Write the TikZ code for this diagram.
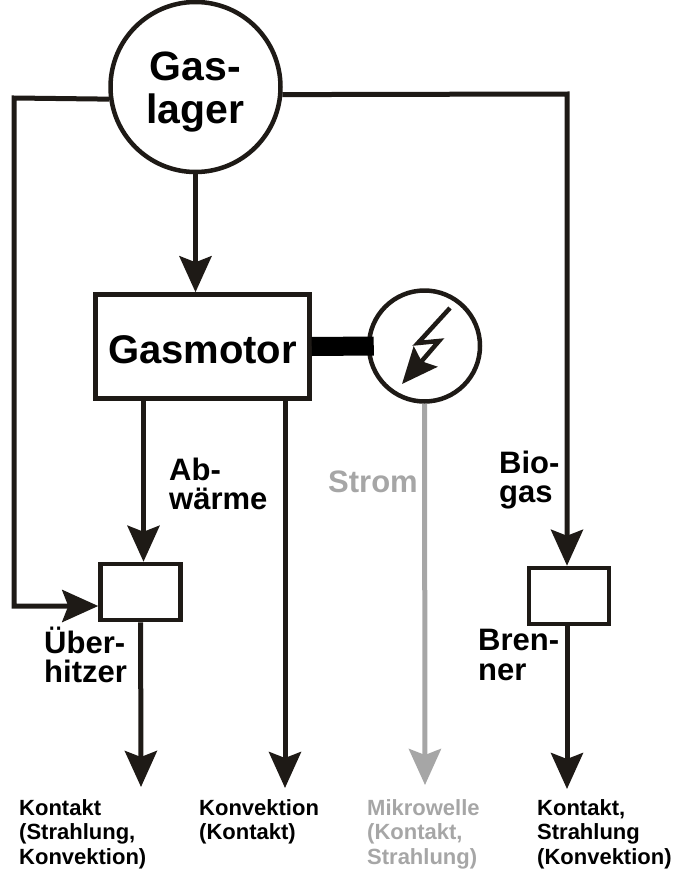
\documentclass[tikz,border=0pt]{standalone}
\usepackage{fontspec}
\setmainfont{Liberation Sans}
\usetikzlibrary{shapes.geometric, arrows.meta, positioning}
\definecolor{linie}{HTML}{1E1A16}
\definecolor{grau}{HTML}{A6A6A6}
\tikzset{
  rund/.style={circle, inner sep=0pt, line width=4.5pt, draw=linie, fill=white, text=black, align=center},
  kasten/.style={rectangle, inner sep=0pt, line width=4.5pt, draw=linie, fill=white, text=black},
  arrow/.style={line width=5pt, draw=linie, -{Stealth[length=36pt, width=32pt, inset=6pt]}},
  gross/.style={font=\fontsize{41}{43}\selectfont\bfseries, align=center},
  mittel/.style={font=\fontsize{31}{29.5}\selectfont\bfseries, align=left, anchor=west, inner sep=0pt, text=black},
  klein/.style={font=\fontsize{22}{24.5}\selectfont\bfseries, align=left, anchor=north west, inner sep=0pt, text=black}
}
\begin{document}
\begin{tikzpicture}[x=1pt, y=-1pt]
        \useasboundingbox (0,0) rectangle (677,870);

        % Knoten
        \node (gaslager) [rund, gross, minimum size=170pt] at (195.5,87) {\rule{0pt}{39pt}Gas-\\lager};
        \node (gasmotor) [kasten, font=\fontsize{40}{43}\selectfont\bfseries, minimum width=214pt, minimum height=104pt, text height=35pt] at (202.5,346.5) {Gasmotor};
        \node (generator) [rund, minimum size=111pt] at (424.5,346) {};
        \node (ueberhitzer) [kasten, minimum width=80pt, minimum height=56pt] at (140.5,592) {};
        \node (brenner) [kasten, minimum width=80pt, minimum height=56pt] at (569,596) {};

        % Hilfspunkte
        \coordinate (ecklinks) at (14,98);
        \coordinate (eckrechts) at (567,94);
        \coordinate (ziel1) at (141,787);
        \coordinate (ziel2) at (285,788);
        \coordinate (ziel3) at (425,785);
        \coordinate (ziel4) at (567,789);

        % Texte
        \node (abwaerme) [mittel] at (169,484) {Ab-\\wärme};
        \node (strom) [mittel, text=grau] at (328,482) {Strom};
        \node (biogas) [mittel] at (499,480) {Bio-\\gas};
        \node (brennertext) [mittel] at (478,655) {Bren-\\ner};
        \node (ueberhitzertext) [mittel] at (44,655) {Über-\\hitzer};
        \node (kontakt1) [klein] at (19,799) {Kontakt\\(Strahlung,\\Konvektion)};
        \node (konvektion) [klein] at (199,799) {Konvektion\\(Kontakt)};
        \node (mikrowelle) [klein, text=grau] at (367,799) {Mikrowelle\\(Kontakt,\\Strahlung)};
        \node (kontakt2) [klein] at (537,799) {Kontakt,\\Strahlung\\(Konvektion)};

        % Flechen
        \draw [arrow] (gaslager) -- (gaslager |- gasmotor.north);
        \draw [line width=19pt, draw=black] (gasmotor.east) -- ([xshift=7pt]generator.west);
        \draw [arrow] (gaslager.188) -- (ecklinks) |- ([yshift=-14pt]ueberhitzer.west);
        \draw [arrow] (gaslager.355) -- (eckrechts) -- (eckrechts |- brenner.north);
        \draw [arrow] ([xshift=3pt]ueberhitzer.north |- gasmotor.south) -- ([xshift=3pt]ueberhitzer.north);
        \draw [arrow] (ueberhitzer) -- (ziel1);
        \draw [arrow] (ziel2 |- gasmotor.south) -- (ziel2);
        \draw [arrow, draw=grau, color=grau] (generator.south) -- (ziel3);
        \draw [arrow] (brenner.south -| ziel4) -- (ziel4);

        % Blitz
        \draw [line width=4.5pt, draw=linie, -{Stealth[length=36pt, width=31pt, inset=6pt]}] (450,308) -- (418,343) -- (439,341) -- (402,384);
\end{tikzpicture}
\end{document}
